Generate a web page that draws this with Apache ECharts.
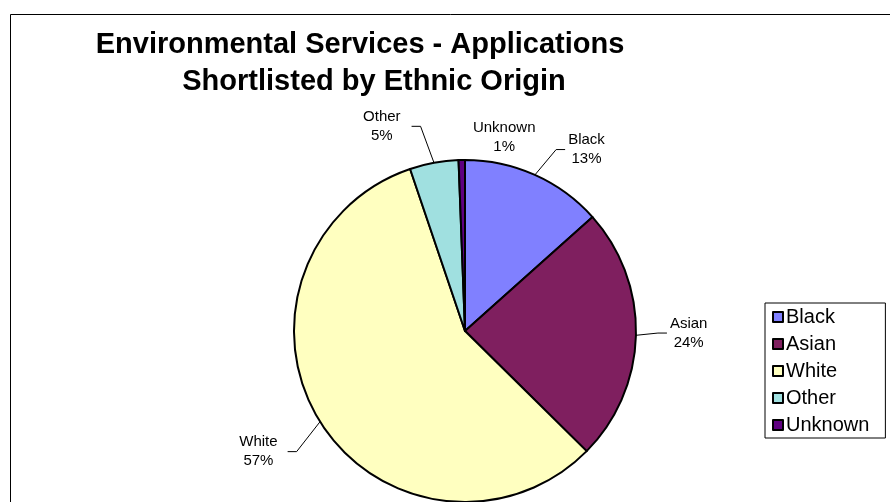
<!DOCTYPE html>
<html>
<head>
<meta charset="utf-8">
<script src="https://cdn.jsdelivr.net/npm/echarts@6/dist/echarts.min.js"></script>
<style>html,body{margin:0;padding:0;background:#fff}#c{width:890px;height:502px}</style>
</head>
<body>
<div id="c"></div>
<script>
const titleLines = ['Environmental Services - Applications', 'Shortlisted by Ethnic Origin'];
const categories = ['Black', 'Asian', 'White', 'Other', 'Unknown'];
const shares = [13.4, 24.0, 57.4, 4.6, 0.6];
const colors = ['#8080FF', '#7F1F5F', '#FFFFC0', '#A0E0E0', '#5F0080'];

// label nudges (Excel-style leader lines): line shift and text shift per slice
const lineNudge = [[9, 2], [-8, -3], [2, 14], [-8, -7], [0, 0]];
const textNudge = [[9, 2], [-8, -3], [-5, 14], [-16, -7], [55, 7]];
const titleCenters = [355, 369];
const titleTops = [21, 58];

const total = shares.reduce((a, b) => a + b, 0);
const chart = echarts.init(document.getElementById('c'), null, {renderer: 'canvas'});

const data = categories.map((name, i) => ({
  name: name,
  value: shares[i],
  itemStyle: {color: colors[i]},
  labelLine: {show: name !== 'Unknown'}
}));

chart.setOption({
  animation: false,
  backgroundColor: '#fff',
  graphic: [{
    type: 'rect', left: 8, top: 12, z: -1,
    shape: {width: 900, height: 600},
    style: {fill: 'none', stroke: '#000', lineWidth: 1}
  }],
  title: titleLines.map((t, i) => ({
    text: t,
    left: titleCenters[i], top: titleTops[i], textAlign: 'center',
    textStyle: {fontFamily: 'Liberation Sans, Arial', fontWeight: 'bold', fontSize: 29, lineHeight: 37, color: '#000'}
  })),
  legend: {
    orient: 'vertical', left: 765, top: 303,
    padding: [4, 16, 3, 7],
    itemGap: 7, itemWidth: 10, itemHeight: 10,
    borderColor: '#000', borderWidth: 1,
    icon: 'rect',
    textStyle: {fontFamily: 'Liberation Sans, Arial', fontSize: 20, lineHeight: 20, color: '#000', padding: [0, 0, 0, -2]},
    data: categories
  },
  series: [{
    type: 'pie',
    center: [465, 331],
    radius: 171,
    startAngle: 90,
    clockwise: true,
    avoidLabelOverlap: false,
    itemStyle: {borderColor: '#000', borderWidth: 2},
    label: {
      show: true,
      position: 'outside',
      formatter: p => '{t|' + p.name + '}\n{t|' + Math.round(p.value / total * 100) + '%}',
      rich: {t: {fontFamily: 'Liberation Sans, Arial', fontSize: 15, lineHeight: 19, color: '#000', align: 'center'}},
      distanceToLabelLine: 3
    },
    labelLine: {show: true, length: 30, length2: 9, lineStyle: {color: '#000', width: 1}},
    labelLayout: function (p) {
      const i = p.dataIndex;
      const res = {dx: textNudge[i][0], dy: textNudge[i][1]};
      if (i === 4) { res.align = 'center'; return res; }
      const pts = p.labelLinePoints;
      if (pts && pts.length === 3) {
        const ldx = lineNudge[i][0], ldy = lineNudge[i][1];
        res.labelLinePoints = [
          [pts[0][0], pts[0][1]],
          [pts[1][0] + ldx, pts[1][1] + ldy],
          [pts[2][0] + ldx, pts[2][1] + ldy]
        ];
      }
      return res;
    },
    emphasis: {disabled: true},
    data: data
  }]
});
</script>
</body>
</html>
